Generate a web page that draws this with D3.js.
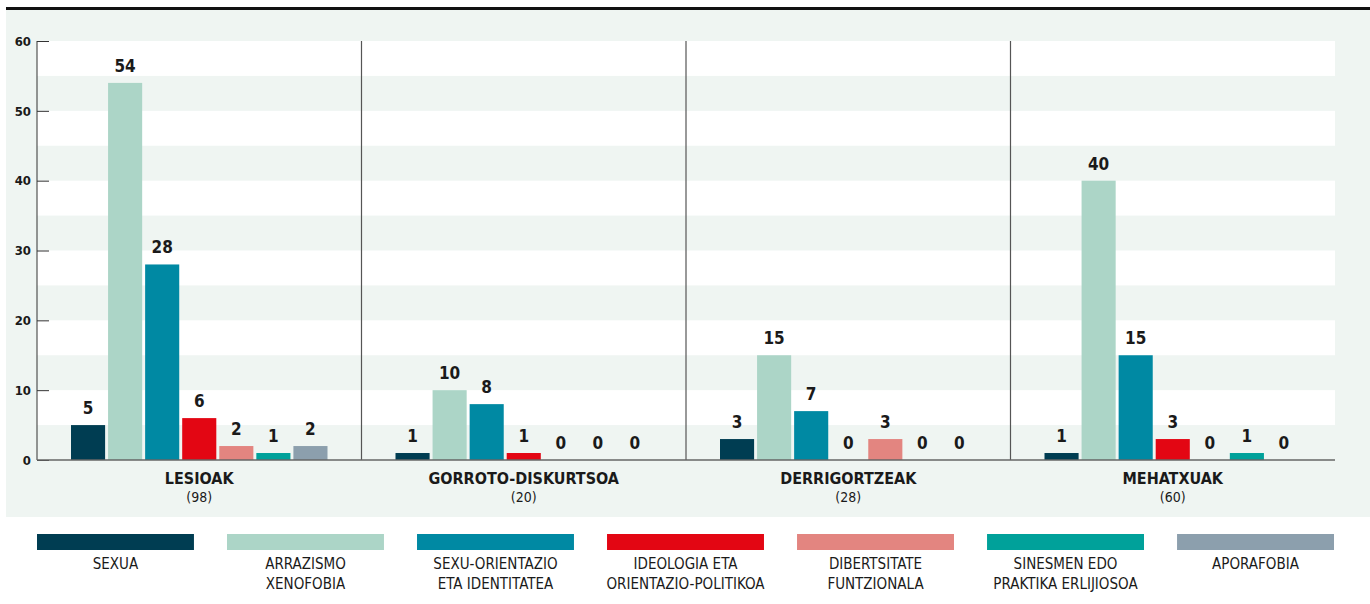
<!DOCTYPE html>
<html>
<head>
<meta charset="utf-8">
<script src="https://cdn.jsdelivr.net/npm/d3@7"></script>
<style>
  body { margin: 0; background: #fff; }
  svg text { font-family: "Liberation Sans Narrow", "DejaVu Sans Condensed", "Roboto", sans-serif; fill: #1a1a1a; }
</style>
</head>
<body>
<svg id="chart"></svg>
<script>
// Categories (groups) and their totals
const groups = ["LESIOAK", "GORROTO-DISKURTSOA", "DERRIGORTZEAK", "MEHATXUAK"];
const totals = [98, 20, 28, 60];

// Series (legend order)
const seriesNames = [
  ["SEXUA"],
  ["ARRAZISMO", "XENOFOBIA"],
  ["SEXU-ORIENTAZIO", "ETA IDENTITATEA"],
  ["IDEOLOGIA ETA", "ORIENTAZIO-POLITIKOA"],
  ["DIBERTSITATE", "FUNTZIONALA"],
  ["SINESMEN EDO", "PRAKTIKA ERLIJIOSOA"],
  ["APORAFOBIA"]
];
const seriesColors = ["#003d52", "#acd5c7", "#0089a3", "#e30613", "#e38580", "#00a19a", "#8c9fad"];

// Values per group, one per series
const lesioak = [5, 54, 28, 6, 2, 1, 2];
const gorroto = [1, 10, 8, 1, 0, 0, 0];
const derrigortzeak = [3, 15, 7, 0, 3, 0, 0];
const mehatxuak = [1, 40, 15, 3, 0, 1, 0];
const values = [lesioak, gorroto, derrigortzeak, mehatxuak];

const yTicks = [0, 10, 20, 30, 40, 50, 60];

const W = 1370, H = 604;
const margin = {top: 41, left: 37, right: 35, bottom: 144};
const plotW = W - margin.left - margin.right;
const plotH = H - margin.top - margin.bottom;

const svg = d3.select("#chart").attr("width", W).attr("height", H);

// top rule and panel
svg.append("rect").attr("x", 6).attr("y", 10).attr("width", W - 6).attr("height", 507).attr("fill", "#eff5f2");
svg.append("rect").attr("x", 6).attr("y", 7).attr("width", W - 6).attr("height", 3).attr("fill", "#111");

const g = svg.append("g").attr("transform", "translate(" + margin.left + "," + margin.top + ")");

const y = d3.scaleLinear().domain([0, 60]).range([plotH, 0]);
const x0 = d3.scaleBand().domain(groups).range([0, plotW]);
const x1 = d3.scaleBand().domain(d3.range(seriesNames.length))
    .range([34, x0.bandwidth() - 34]).paddingInner(0.08);

// alternating white bands (every 5 units)
const bandStarts = d3.range(55, 0, -10);
g.selectAll(".band").data(bandStarts).enter().append("rect")
    .attr("x", 0).attr("width", plotW)
    .attr("y", d => y(d + 5)).attr("height", d => y(d) - y(d + 5))
    .attr("fill", "#fff");

// group separators
g.selectAll(".sep").data(groups.slice(1)).enter().append("line")
    .attr("x1", d => x0(d)).attr("x2", d => x0(d))
    .attr("y1", 0).attr("y2", plotH)
    .attr("stroke", "#555").attr("stroke-width", 1.2);

// y axis
const yAxis = g.append("g")
    .call(d3.axisRight(y).tickValues(yTicks).tickSize(12).tickFormat(d3.format("d")));
yAxis.select(".domain").attr("stroke", "#333").attr("d", "M0,0V" + plotH);
yAxis.selectAll(".tick line").attr("stroke", "#333");
yAxis.selectAll(".tick text").attr("x", -6).attr("text-anchor", "end")
    .style("font-size", "13px").style("font-weight", "bold").attr("fill", "#1a1a1a");

// bars
const grp = g.selectAll(".grp").data(groups).enter().append("g")
    .attr("transform", d => "translate(" + x0(d) + ",0)");

grp.selectAll("rect.bar").data((d, i) => values[i].map((v, j) => ({v, j}))).enter().append("rect")
    .attr("x", d => x1(d.j)).attr("width", x1.bandwidth())
    .attr("y", d => y(d.v)).attr("height", d => plotH - y(d.v))
    .attr("fill", d => seriesColors[d.j]);

grp.selectAll("text.val").data((d, i) => values[i].map((v, j) => ({v, j}))).enter().append("text")
    .attr("x", d => x1(d.j) + x1.bandwidth() / 2)
    .attr("y", d => y(d.v) - 11)
    .attr("text-anchor", "middle")
    .style("font-size", "17px").style("font-weight", "bold")
    .text(d => d.v);

// baseline
g.append("line").attr("x1", 0).attr("x2", plotW).attr("y1", plotH).attr("y2", plotH)
    .attr("stroke", "#666").attr("stroke-width", 1.5);

// group labels
grp.append("text")
    .attr("x", x0.bandwidth() / 2).attr("y", plotH + 24)
    .attr("text-anchor", "middle")
    .style("font-size", "16px").style("font-weight", "bold")
    .text(d => d);
grp.append("text")
    .attr("x", x0.bandwidth() / 2).attr("y", plotH + 42)
    .attr("text-anchor", "middle")
    .style("font-size", "14px")
    .text((d, i) => "(" + totals[i] + ")");

// legend
const legendX = d3.scaleBand().domain(d3.range(seriesNames.length)).range([37, 1334]).paddingInner(0.174);
const leg = svg.selectAll(".leg").data(seriesNames).enter().append("g")
    .attr("transform", (d, i) => "translate(" + legendX(i) + ",534)");
leg.append("rect").attr("width", legendX.bandwidth()).attr("height", 16)
    .attr("fill", (d, i) => seriesColors[i]);
leg.each(function(d) {
  const t = d3.select(this).append("text")
      .attr("x", legendX.bandwidth() / 2).attr("y", 35)
      .attr("text-anchor", "middle").style("font-size", "15px");
  d.forEach((line, k) => t.append("tspan").attr("x", legendX.bandwidth() / 2).attr("dy", k ? 20 : 0).text(line));
});
</script>
</body>
</html>
